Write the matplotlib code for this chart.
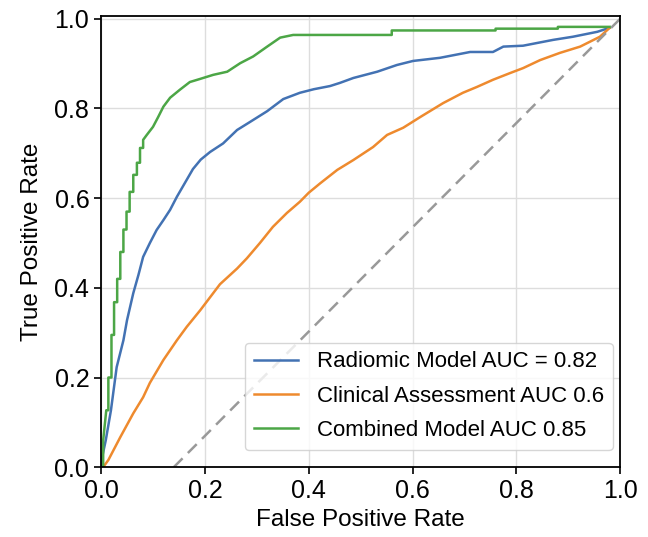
import matplotlib.pyplot as plt

plt.rcParams['font.family'] = ['Liberation Sans', 'DejaVu Sans']

# ROC points
radiomic_fpr = [0, 0.002, 0.009, 0.019, 0.030, 0.043, 0.050, 0.062, 0.072, 0.081, 0.094, 0.107, 0.120,
                0.133, 0.146, 0.165, 0.177, 0.192, 0.210, 0.235, 0.262, 0.287, 0.320, 0.351, 0.383,
                0.410, 0.441, 0.460, 0.486, 0.532, 0.570, 0.601, 0.653, 0.711, 0.755, 0.775, 0.813,
                0.871, 0.909, 0.956, 0.980]
radiomic_tpr = [0, 0.022, 0.060, 0.127, 0.223, 0.283, 0.328, 0.388, 0.429, 0.469, 0.500, 0.529, 0.551,
                0.574, 0.603, 0.641, 0.665, 0.686, 0.703, 0.722, 0.752, 0.770, 0.794, 0.821, 0.835,
                0.843, 0.850, 0.857, 0.868, 0.882, 0.897, 0.906, 0.913, 0.926, 0.926, 0.938, 0.940,
                0.953, 0.960, 0.971, 0.980]

clinical_fpr = [0, 0.004, 0.014, 0.037, 0.062, 0.081, 0.094, 0.120, 0.146, 0.165, 0.191, 0.210, 0.229,
                0.262, 0.281, 0.306, 0.331, 0.358, 0.383, 0.400, 0.422, 0.455, 0.486, 0.524, 0.551,
                0.582, 0.615, 0.659, 0.697, 0.724, 0.755, 0.788, 0.813, 0.846, 0.884, 0.923, 0.961,
                0.980]
clinical_tpr = [0, 0, 0.016, 0.067, 0.120, 0.156, 0.188, 0.239, 0.283, 0.313, 0.350, 0.379, 0.408,
                0.443, 0.466, 0.500, 0.536, 0.567, 0.592, 0.612, 0.633, 0.663, 0.685, 0.714, 0.741,
                0.757, 0.781, 0.812, 0.835, 0.848, 0.864, 0.879, 0.890, 0.908, 0.924, 0.938, 0.960,
                0.980]

combined_fpr = [0, 0.004, 0.004, 0.010, 0.014, 0.014, 0.020, 0.020, 0.025, 0.025, 0.031, 0.031, 0.037,
                0.037, 0.043, 0.043, 0.049, 0.049, 0.055, 0.055, 0.062, 0.062, 0.069, 0.069, 0.075,
                0.075, 0.081, 0.081, 0.088, 0.100, 0.110, 0.120, 0.133, 0.152, 0.171, 0.191, 0.216,
                0.243, 0.268, 0.293, 0.320, 0.345, 0.370, 0.56, 0.56, 0.76, 0.76, 0.88, 0.88, 0.98]
combined_tpr = [0, 0, 0.06, 0.127, 0.127, 0.2, 0.2, 0.295, 0.295, 0.368, 0.368, 0.42, 0.42,
                0.48, 0.48, 0.53, 0.53, 0.57, 0.57, 0.614, 0.614, 0.652, 0.652, 0.679, 0.679,
                0.712, 0.712, 0.730, 0.741, 0.759, 0.781, 0.804, 0.824, 0.842, 0.859, 0.866, 0.875,
                0.882, 0.901, 0.916, 0.938, 0.958, 0.964, 0.964, 0.974, 0.974, 0.978, 0.978, 0.982, 0.982]

chance_x = [0.14, 1.0]
chance_y = [0.0, 1.0]

labels = ["Radiomic Model AUC = 0.82", "Clinical Assessment AUC 0.6", "Combined Model AUC 0.85"]
colors = ["#4372b3", "#ee8a2e", "#4ca646"]

fig = plt.figure(figsize=(6.48, 5.37), dpi=100)
ax = fig.add_axes([0.156, 0.130, 0.801, 0.840])

ax.plot(radiomic_fpr, radiomic_tpr, color=colors[0], lw=1.8, label=labels[0])
ax.plot(clinical_fpr, clinical_tpr, color=colors[1], lw=1.8, label=labels[1])
ax.plot(combined_fpr, combined_tpr, color=colors[2], lw=1.8, label=labels[2])
ax.plot(chance_x, chance_y, color="#999999", lw=1.8, linestyle=(0, (5, 3)))

ax.set_xlim(0, 1)
ax.set_ylim(0, 1.006)
ax.set_xticks([0, 0.2, 0.4, 0.6, 0.8, 1.0])
ax.set_yticks([0, 0.2, 0.4, 0.6, 0.8, 1.0])
ax.tick_params(labelsize=18, length=5, width=1.2)
ax.grid(True, color="#dddddd", lw=1)
ax.set_axisbelow(True)
for s in ax.spines.values():
    s.set_linewidth(1.3)

ax.set_xlabel("False Positive Rate", fontsize=17.5, labelpad=4)
ax.set_ylabel("True Positive Rate", fontsize=17.5, labelpad=8)

ax.legend(loc="lower right", bbox_to_anchor=(0.986, 0.038), borderaxespad=0,
          fontsize=16, handlelength=2.0, handletextpad=0.85, labelspacing=0.6, fancybox=True)

fig.savefig("out.png", dpi=100)
